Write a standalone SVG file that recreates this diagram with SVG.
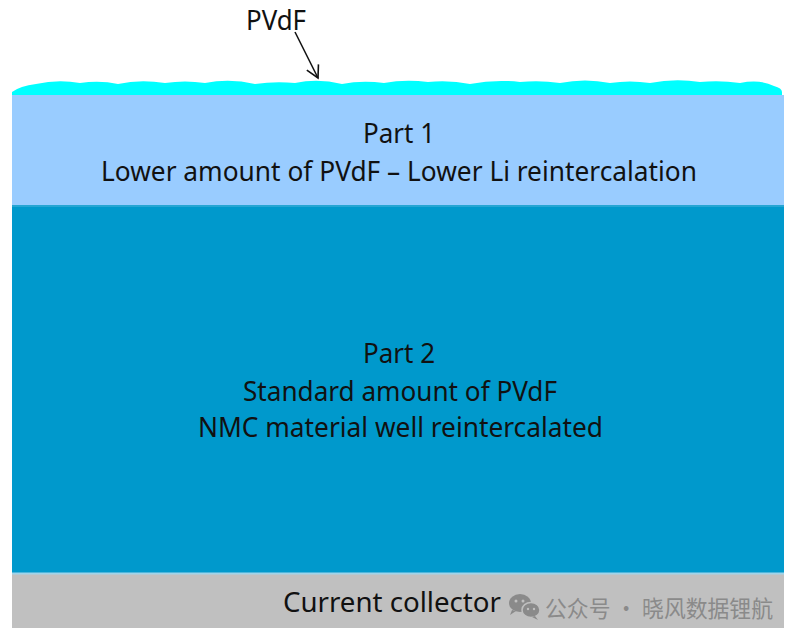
<svg xmlns="http://www.w3.org/2000/svg" width="798" height="639" viewBox="0 0 798 639">
<defs>
<style>
.lbl{font-family:"Noto Sans","Open Sans","Liberation Sans",sans-serif;font-size:27px;fill:#111;}
.wm{font-family:"Noto Sans CJK SC","Noto Sans",sans-serif;font-size:23px;fill:#8a8a8a;}
.conn{stroke:#111;stroke-width:1.6;fill:none;}
</style>
<marker id="arr" markerUnits="userSpaceOnUse" markerWidth="16" markerHeight="16" refX="13" refY="8" orient="auto">
<path d="M1,1.5 L13,8 L1,14.5" fill="none" stroke="#111" stroke-width="1.6"/>
</marker>
</defs>
<rect width="798" height="639" fill="#ffffff"/>
<g id="pvdf-layer">
<path d="M12,95 L12,92 Q20,86 36,84 Q58,79 80,83 Q100,80 118,84 Q140,79 165,83 Q185,80 205,83 Q230,78 255,84 Q275,81 295,83 Q318,78 342,84 Q362,80 384,83 Q405,79 428,82 Q450,80 470,84 Q495,79 520,82 Q540,80 560,83 Q585,78 610,83 Q630,80 650,83 Q675,78 700,82 Q720,80 740,83 Q760,79 774,86 Q782,88 782,92 L782,95 Z" fill="#00ffff"/>
</g>
<g id="part1">
<rect x="12" y="95" width="772" height="110" fill="#99ccff"/>
<text class="lbl" x="363" y="143" textLength="72" lengthAdjust="spacingAndGlyphs">Part 1</text>
<text class="lbl" x="101" y="181" textLength="596" lengthAdjust="spacingAndGlyphs">Lower amount of PVdF – Lower Li reintercalation</text>
</g>
<g id="part2">
<rect x="12" y="205" width="772" height="368" fill="#0099cc"/>
<line x1="12" y1="206" x2="784" y2="206" stroke="#33aad6" stroke-width="1.5"/>
<text class="lbl" x="363" y="363" textLength="72" lengthAdjust="spacingAndGlyphs">Part 2</text>
<text class="lbl" x="243" y="401" textLength="314" lengthAdjust="spacingAndGlyphs">Standard amount of PVdF</text>
<text class="lbl" x="198" y="437" textLength="405" lengthAdjust="spacingAndGlyphs">NMC material well reintercalated</text>
</g>
<g id="current-collector">
<rect x="12" y="573" width="772" height="55" fill="#c0c0c0"/>
<line x1="12" y1="573.5" x2="784" y2="573.5" stroke="#9fd4ea" stroke-width="2"/>
<text class="lbl" x="283" y="612" textLength="218" lengthAdjust="spacingAndGlyphs">Current collector</text>
</g>
<g id="pvdf-label">
<text class="lbl" x="246" y="30" textLength="60" lengthAdjust="spacingAndGlyphs">PVdF</text>
</g>
<g id="connectors">
<line class="conn" x1="295" y1="32" x2="318" y2="78" marker-end="url(#arr)"/>
</g>
<g id="watermark">
<ellipse cx="520" cy="603" rx="11" ry="9" fill="#8a8a8a"/>
<path d="M512,610 L510,615 L516,611 Z" fill="#8a8a8a"/>
<ellipse cx="531" cy="610" rx="9" ry="7.5" fill="#8a8a8a" stroke="#c0c0c0" stroke-width="1.5"/>
<path d="M535,616 L538,620 L532,617 Z" fill="#8a8a8a"/>
<circle cx="516" cy="601" r="1.5" fill="#c0c0c0"/>
<circle cx="523" cy="601" r="1.5" fill="#c0c0c0"/>
<circle cx="528" cy="609" r="1.2" fill="#c0c0c0"/>
<circle cx="534" cy="609" r="1.2" fill="#c0c0c0"/>
<text class="wm" x="545" y="617" textLength="228" lengthAdjust="spacingAndGlyphs">公众号 · 晓风数据锂航</text>
</g>
</svg>
